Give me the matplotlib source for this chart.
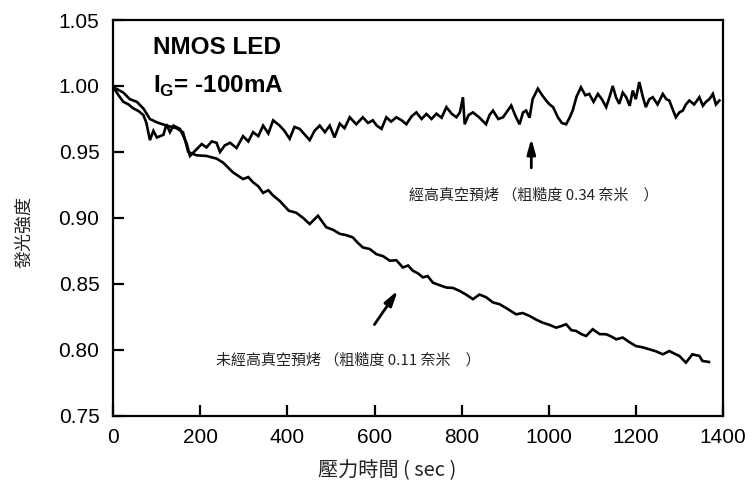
import matplotlib
matplotlib.use("Agg")
import matplotlib.pyplot as plt

plt.rcParams['font.family'] = ['Liberation Sans', 'DejaVu Sans']
plt.rcParams['mathtext.fontset'] = 'custom'
plt.rcParams['mathtext.rm'] = 'Liberation Sans'
plt.rcParams['mathtext.bf'] = 'Liberation Sans:bold'

# Baked sample (roughness 0.34 nm)
baked_x = [0, 12, 23, 35, 46, 58, 69, 76, 84, 92, 100, 115, 122, 130, 138, 153, 168, 176, 191, 203, 214,
           226, 237, 245, 256, 268, 283, 298, 310, 321, 333, 344, 356, 367, 382, 393, 405, 416, 428, 440, 451,
           462, 474, 486, 497, 508, 520, 531, 543, 558, 573, 585, 596, 605, 616, 627, 638, 650, 662, 673, 685,
           696, 708, 719, 731, 742, 754, 765, 777, 788, 796, 803, 807, 816, 826, 841, 856, 864, 872, 884, 895,
           905, 914, 924, 933, 941, 948, 956, 963, 975, 985, 994, 1002, 1010, 1021, 1030, 1040, 1048, 1055,
           1064, 1074, 1084, 1093, 1103, 1113, 1122, 1132, 1140, 1147, 1155, 1162, 1170, 1178, 1186, 1193,
           1200, 1208, 1216, 1223, 1231, 1239, 1250, 1262, 1270, 1277, 1285, 1292, 1300, 1308, 1315, 1323,
           1334, 1346, 1354, 1361, 1369, 1377, 1384, 1392]
baked_y = [0.999, 0.993, 0.988, 0.986, 0.983, 0.981, 0.978, 0.972, 0.959, 0.966, 0.961, 0.963, 0.971, 0.965,
           0.970, 0.9675, 0.957, 0.947, 0.952, 0.956, 0.9535, 0.958, 0.957, 0.950, 0.955, 0.957, 0.953,
           0.962, 0.958, 0.965, 0.962, 0.970, 0.964, 0.974, 0.970, 0.966, 0.960, 0.969, 0.9675, 0.963,
           0.959, 0.966, 0.970, 0.965, 0.970, 0.961, 0.9715, 0.968, 0.9763, 0.971, 0.9763, 0.972, 0.974,
           0.970, 0.9675, 0.9763, 0.973, 0.9763, 0.974, 0.971, 0.977, 0.980, 0.975, 0.9788, 0.975, 0.979,
           0.976, 0.984, 0.979, 0.9763, 0.980, 0.9915, 0.971, 0.978, 0.980, 0.976, 0.971, 0.978, 0.9814,
           0.975, 0.9763, 0.981, 0.9852, 0.977, 0.971, 0.980, 0.9814, 0.976, 0.990, 0.998, 0.993, 0.989,
           0.986, 0.984, 0.9763, 0.972, 0.971, 0.976, 0.9814, 0.992, 0.999, 0.993, 0.994, 0.988, 0.994,
           0.990, 0.984, 0.992, 1.000, 0.991, 0.9865, 0.995, 0.9915, 0.985, 0.9966, 0.990, 1.003, 0.992,
           0.984, 0.990, 0.9915, 0.986, 0.994, 0.990, 0.989, 0.982, 0.9763, 0.980, 0.9814, 0.986, 0.989,
           0.986, 0.9915, 0.985, 0.988, 0.990, 0.994, 0.986, 0.989]

# Unbaked sample (roughness 0.11 nm)
unb_x = [0, 12, 23, 38, 54, 69, 84, 100, 122, 145, 160, 172, 191, 214, 237, 252, 275, 298, 310, 321, 333,
         344, 356, 367, 382, 403, 420, 436, 451, 470, 489, 505, 520, 535, 550, 562, 573, 589, 604, 620, 635,
         650, 665, 677, 688, 700, 711, 722, 734, 750, 765, 780, 795, 810, 826, 841, 856, 872, 887, 906, 925,
         940, 956, 971, 986, 1002, 1017, 1028, 1040, 1052, 1063, 1075, 1086, 1101, 1117, 1132, 1145, 1155,
         1170, 1185, 1200, 1216, 1231, 1246, 1262, 1277, 1290, 1300, 1315, 1330, 1346, 1353, 1368]
unb_y = [0.999, 0.997, 0.995, 0.990, 0.988, 0.983, 0.975, 0.9725, 0.970, 0.968, 0.965, 0.950, 0.9475,
         0.947, 0.945, 0.942, 0.9345, 0.9295, 0.931, 0.927, 0.924, 0.919, 0.921, 0.917, 0.913, 0.9055,
         0.904, 0.900, 0.8954, 0.9017, 0.893, 0.891, 0.888, 0.887, 0.8853, 0.881, 0.8777, 0.8765, 0.8726,
         0.871, 0.8676, 0.868, 0.8625, 0.864, 0.860, 0.858, 0.855, 0.856, 0.851, 0.849, 0.8473, 0.847,
         0.8448, 0.842, 0.8385, 0.842, 0.840, 0.836, 0.8347, 0.831, 0.827, 0.828, 0.8258, 0.823, 0.8207,
         0.819, 0.8169, 0.818, 0.8195, 0.815, 0.8144, 0.812, 0.8106, 0.8157, 0.812, 0.8119, 0.810, 0.8081,
         0.8094, 0.806, 0.803, 0.802, 0.8005, 0.799, 0.7967, 0.7992, 0.797, 0.7955, 0.7904, 0.7967, 0.7955,
         0.7917, 0.7909]

x_ticks = [0, 200, 400, 600, 800, 1000, 1200, 1400]
y_ticks = [0.75, 0.80, 0.85, 0.90, 0.95, 1.00, 1.05]

fig = plt.figure(figsize=(7.53, 4.82), dpi=100)
ax = fig.add_axes([0.1505, 0.137, 0.8095, 0.8215])

ax.plot(baked_x, baked_y, color='black', lw=1.9, solid_joinstyle='miter')
ax.plot(unb_x, unb_y, color='black', lw=1.9, solid_joinstyle='miter')

ax.set_xlim(0, 1400)
ax.set_ylim(0.75, 1.05)
ax.set_xticks(x_ticks)
ax.set_yticks(y_ticks)
ax.set_xticklabels([str(v) for v in x_ticks])
ax.set_yticklabels([f"{v:.2f}" for v in y_ticks])
ax.tick_params(direction='in', length=8, width=1.6, labelsize=15, pad=9)
ax.tick_params(axis='y', pad=10)
for s in ax.spines.values():
    s.set_linewidth(1.6)

cjk = ['Noto Sans CJK TC', 'DejaVu Sans']
ax.set_ylabel('發光強度', family=cjk, fontsize=13, color='#222222')
ax.yaxis.set_label_coords(-0.132, 0.465)
ax.set_xlabel('壓力時間 ( sec )', family=cjk, fontsize=14.5, color='#222222')
ax.xaxis.set_label_coords(0.45, -0.112)

ax.text(0.065, 0.915, 'NMOS LED', transform=ax.transAxes, fontsize=17.5,
        fontweight='bold', ha='left', va='baseline')
ax.text(0.065, 0.815, r'I$_\mathregular{G}$= -100mA', transform=ax.transAxes, fontsize=17.5,
        fontweight='bold', ha='left', va='baseline')

ax.text(965, 0.917, '經高真空預烤 （粗糙度 0.34 奈米　）', family=cjk, fontsize=10.8,
        ha='center', va='center', color='#222222')
ax.text(540, 0.792, '未經高真空預烤 （粗糙度 0.11 奈米　）', family=cjk, fontsize=10.8,
        ha='center', va='center', color='#222222')

ax.annotate('', xy=(960, 0.9624), xytext=(960, 0.9359),
            arrowprops=dict(arrowstyle='-|>,head_length=0.9,head_width=0.25', color='black', lw=2))
ax.annotate('', xy=(657, 0.8468), xytext=(596, 0.8175),
            arrowprops=dict(arrowstyle='-|>,head_length=0.9,head_width=0.25', color='black', lw=2))

fig.savefig('out.png', dpi=100)
